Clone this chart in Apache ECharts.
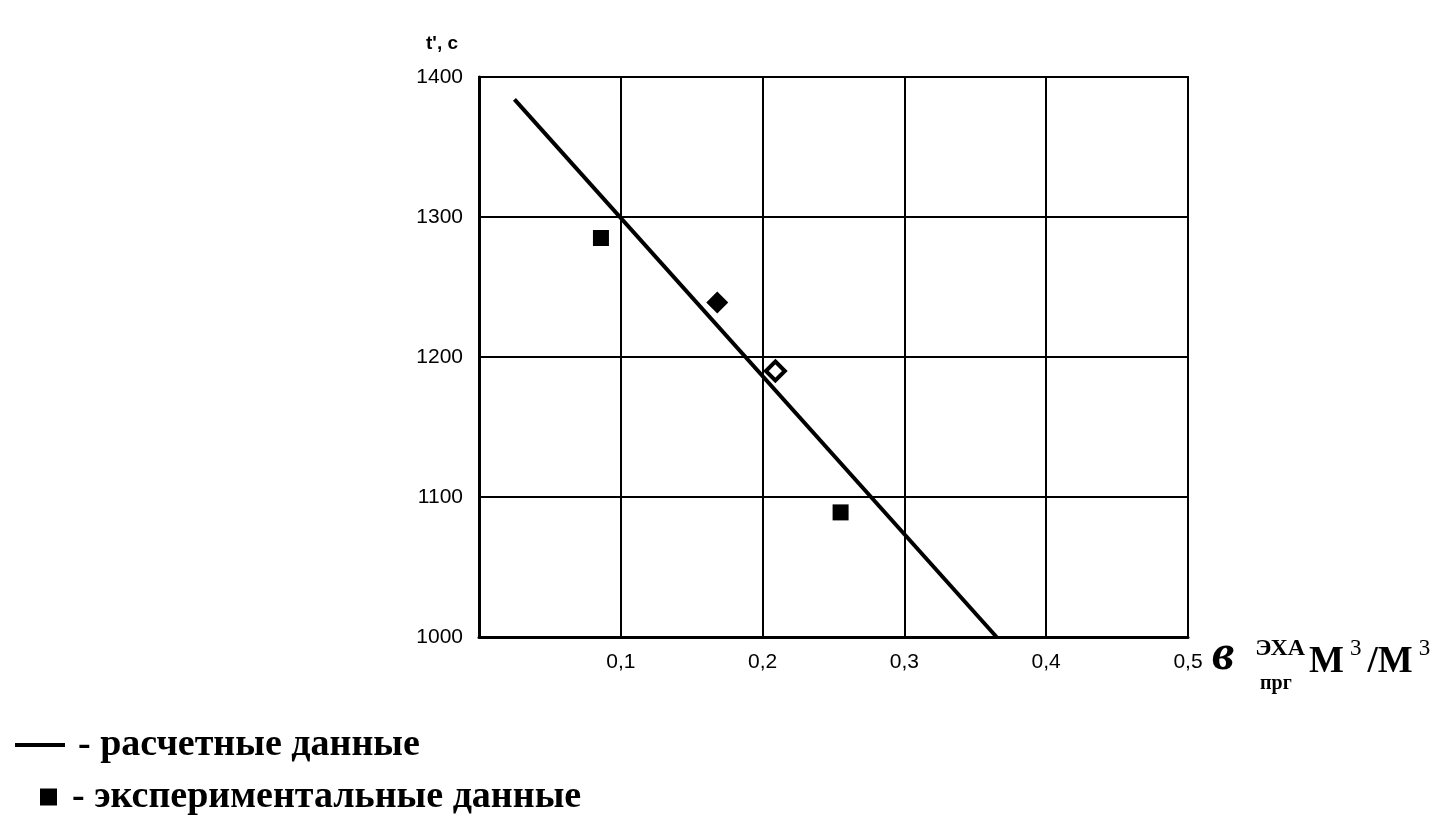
<!DOCTYPE html>
<html>
<head>
<meta charset="utf-8">
<script src="https://cdn.jsdelivr.net/npm/echarts@6/dist/echarts.min.js"></script>
<style>html,body{margin:0;padding:0;background:#fff}#c{width:1440px;height:822px}</style>
</head>
<body>
<div id="c"></div>
<script>
// Calculated line (endpoints)
var calcX = [0.025, 0.365];
var calcY = [1384, 1000];
// Experimental points
var expX = [0.086, 0.168, 0.209, 0.255];
var expY = [1285, 1239, 1190, 1089];
var expKind = ['square', 'diamond', 'diamondOpen', 'square'];
// Axis ticks
var xTicks = [0, 0.1, 0.2, 0.3, 0.4, 0.5];
var yTicks = [1000, 1100, 1200, 1300, 1400];
var calcName = 'расчетные данные';
var expName = 'экспериментальные данные';

var chart = echarts.init(document.getElementById('c'));

var calcData = calcX.map(function (x, i) { return [x, calcY[i]]; });
var expData = expX.map(function (x, i) {
  var k = expKind[i];
  var item = { value: [x, expY[i]] };
  if (k === 'square') {
    item.symbol = 'rect'; item.symbolSize = 16;
  } else if (k === 'diamond') {
    item.symbol = 'diamond'; item.symbolSize = [22, 22];
  } else {
    item.symbol = 'diamond'; item.symbolSize = [19, 19];
    item.itemStyle = { color: '#fff', borderColor: '#000', borderWidth: 4, opacity: 1 };
  }
  return item;
});

chart.setOption({
  animation: false,
  backgroundColor: '#fff',
  grid: {
    left: 479, top: 77, width: 709, height: 560,
    show: true, borderColor: '#000', borderWidth: 2, backgroundColor: 'transparent'
  },
  xAxis: {
    type: 'value',
    min: xTicks[0], max: xTicks[xTicks.length - 1], interval: 0.1,
    axisLine: { show: true, lineStyle: { color: '#000', width: 3 } },
    axisTick: { show: false },
    splitLine: { show: true, lineStyle: { color: '#000', width: 2 } },
    axisLabel: {
      margin: 15, color: '#000', fontSize: 21, fontFamily: 'Liberation Sans',
      formatter: function (v) { return v === 0 ? '' : v.toFixed(1).replace('.', ','); }
    },
    name: '{v|в}{sup|ЭХА}{m|М}{s|3}{m|/М}{s|3}',
    nameLocation: 'end',
    nameGap: 24,
    nameTextStyle: {
      color: '#000',
      align: 'left',
      verticalAlign: 'top',
      padding: [0, 0, 0, 0],
      rich: {
        v: { fontFamily: 'Liberation Serif', fontStyle: 'italic', fontWeight: 'bold', fontSize: 50, color: '#000', verticalAlign: 'bottom', lineHeight: 44, padding: [0, 21, 0, 0] },
        sup: { fontFamily: 'Liberation Serif', fontWeight: 'bold', fontSize: 24, color: '#000', verticalAlign: 'top', padding: [0, 4, 0, 0], lineHeight: 44 },
        m: { fontFamily: 'Liberation Serif', fontWeight: 'bold', fontSize: 37, color: '#000', verticalAlign: 'bottom', lineHeight: 44 },
        s: { fontFamily: 'Liberation Serif', fontSize: 23, color: '#000', verticalAlign: 'top', lineHeight: 44, padding: [0, 6, 0, 6] }
      }
    }
  },
  yAxis: {
    type: 'value',
    min: yTicks[0], max: yTicks[yTicks.length - 1], interval: 100,
    axisLine: { show: true, lineStyle: { color: '#000', width: 3 } },
    axisTick: { show: false },
    splitLine: { show: true, lineStyle: { color: '#000', width: 2 } },
    axisLabel: {
      margin: 16, color: '#000', fontSize: 21, fontFamily: 'Liberation Sans',
      formatter: function (v) { return String(v); }
    },
    name: "t', с",
    nameLocation: 'end',
    nameGap: 24,
    nameTextStyle: { color: '#000', fontSize: 19, fontFamily: 'Liberation Sans', fontWeight: 'bold', align: 'right', padding: [0, 21, 0, 0] }
  },
  legend: [
    {
      data: [{ name: calcName, icon: 'rect' }],
      left: 10, top: 721, orient: 'vertical',
      itemWidth: 50, itemHeight: 4,
      textStyle: { color: '#000', fontSize: 38, fontWeight: 'bold', fontFamily: 'Liberation Serif', padding: [0, 0, 0, 8] },
      formatter: function (n) { return '- ' + n; },
      selectedMode: false
    },
    {
      data: [{ name: expName, icon: 'rect' }],
      left: 35, top: 773, orient: 'vertical',
      itemWidth: 17, itemHeight: 17,
      textStyle: { color: '#000', fontSize: 38, fontWeight: 'bold', fontFamily: 'Liberation Serif', padding: [0, 0, 0, 10] },
      formatter: function (n) { return '- ' + n; },
      selectedMode: false
    }
  ],
  graphic: [
    {
      type: 'text', left: 1260, top: 674,
      style: { text: 'прг', fontFamily: 'Liberation Serif', fontWeight: 'bold', fontSize: 20, fill: '#000' }
    }
  ],
  series: [
    {
      name: calcName, type: 'line', data: calcData,
      symbol: 'none', lineStyle: { color: '#000', width: 4 }, itemStyle: { color: '#000' },
      z: 3
    },
    {
      name: expName, type: 'scatter', data: expData,
      itemStyle: { color: '#000', opacity: 1 }, z: 4
    }
  ]
});
</script>
</body>
</html>
